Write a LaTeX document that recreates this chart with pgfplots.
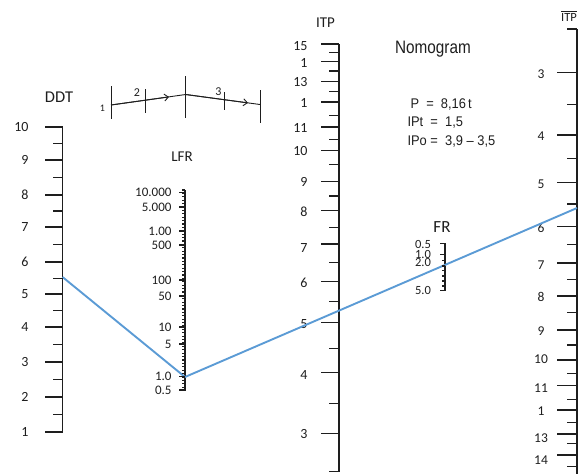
\documentclass[border=0pt]{standalone}
\usepackage{fontspec}
\setmainfont{Carlito}
\newfontfamily\arial{Liberation Sans}
\usepackage{pgfplots}
\pgfplotsset{compat=1.18}
\usetikzlibrary{arrows.meta}
\definecolor{nomoblue}{HTML}{5B9BD5}
\definecolor{ink}{HTML}{1E1E1E}
\newcommand\fs[1]{\fontsize{#1}{#1}\selectfont}
\pgfplotsset{
  tk/.style={only marks, mark=-, color=ink, mark options={line width=1.2pt}},
  ax/.style={ink, line width=1.3pt, mark=none},
}
\begin{document}
\begin{tikzpicture}
\begin{axis}[name=ax, x=1pt, y=1pt, xmin=0, xmax=584, ymin=0, ymax=474,
  y dir=reverse, hide axis, clip=false]

% ---------------- DDT scale ----------------
\addplot[ax] coordinates {(62.5,127)(62.5,432)};
\addplot[tk, mark size=8.75] coordinates {(53.75,127)(53.75,160)(53.75,195)(53.75,227)(53.75,262)(53.75,294)(53.75,327)(53.75,362)(53.75,397)(53.75,432)};
\addplot[tk, mark size=4.75] coordinates {(57.75,143.5)(57.75,177.5)(57.75,211)(57.75,244.5)(57.75,278.5)(57.75,310.5)(57.75,344.5)(57.75,379.5)(57.75,414.5)};
\foreach \v/\y in {10/127,9/160,8/195,7/227,6/262,5/294,4/327,3/362,2/397,1/432}
  {\edef\tmp{\noexpand\node[anchor=east, font=\noexpand\fs{14}, text=ink] at (32,\y) {\v};}\tmp}
\node[font=\fs{16.5}, text=ink] at (59,97) {DDT};

% ---------------- LFR scale ----------------
\addplot[ax] coordinates {(185,190)(185,390.5)};
\addplot[tk, mark size=1.6] coordinates {(183.4,190)(183.4,193.4)(183.4,196.8)(183.4,200.2)(183.4,203.6)(183.4,207)(183.4,210.4)(183.4,213.8)(183.4,217.2)(183.4,220.6)(183.4,224)(183.4,227.4)(183.4,230.8)(183.4,234.2)(183.4,237.6)(183.4,241)(183.4,244.4)(183.4,247.8)(183.4,251.2)(183.4,254.6)(183.4,258)(183.4,261.4)(183.4,264.8)(183.4,268.2)(183.4,271.6)(183.4,275)(183.4,278.4)(183.4,281.8)(183.4,285.2)(183.4,288.6)(183.4,292)(183.4,295.4)(183.4,298.8)(183.4,302.2)(183.4,305.6)(183.4,309)(183.4,312.4)(183.4,315.8)(183.4,319.2)(183.4,322.6)(183.4,326)(183.4,329.4)(183.4,332.8)(183.4,336.2)(183.4,339.6)(183.4,343)(183.4,346.4)(183.4,349.8)(183.4,353.2)(183.4,356.6)(183.4,360)(183.4,363.4)(183.4,366.8)(183.4,370.2)(183.4,373.6)(183.4,377)(183.4,380.4)(183.4,383.8)(183.4,387.2)(183.4,390)};
\addplot[tk, mark size=3] coordinates {(182,192.7)(182,207)(182,231)(182,245)(182,280)(182,296)(182,327)(182,344)(182,376.7)(182,390)};
\foreach \v/\y in {10.000/192.7,5.000/207,1.00/231,500/245,100/280,50/296,10/327,5/344,1.0/376.7,0.5/390}
  {\edef\tmp{\noexpand\node[anchor=east, font=\noexpand\fs{13}, text=ink] at (175,\y) {\v};}\tmp}
\node[font=\fs{15}, text=ink] at (182,157) {LFR};

% ---------------- ITP (middle) scale ----------------
\addplot[ax] coordinates {(339,44)(339,472)};
\addplot[tk, mark size=9.25] coordinates {(329.75,44)(329.75,61.7)(329.75,81.7)(329.75,102)(329.75,127)(329.75,150.7)(329.75,181.7)(329.75,210.7)(329.75,244)(329.75,281.3)(329.75,322.3)(329.75,372.7)(329.75,433.3)};
\addplot[tk, mark size=4.85] coordinates {(334.15,52.7)(334.15,71)(334.15,91.7)(334.15,115.7)(334.15,139.3)(334.15,164.7)(334.15,196)(334.15,227.5)(334.15,262.3)(334.15,301.7)(334.15,348.7)(334.15,403.3)(334.15,471.7)};
\foreach \v/\y in {15/46,1/62.5,13/81.7,1/102.5,11/127.5,10/151,9/182,8/212,7/248,6/283,5/324,4/375,3/434}
  {\edef\tmp{\noexpand\node[anchor=east, font=\noexpand\fs{14}, text=ink] at (311,\y) {\v};}\tmp}
\node[font=\fs{15}, text=ink] at (325.5,22.5) {ITP};

% ---------------- ITP-bar (right) scale ----------------
\addplot[ax] coordinates {(577,29)(577,474)};
\addplot[tk, mark size=9.85] coordinates {(567.15,72.3)(567.15,135)(567.15,182.3)(567.15,226.7)(567.15,263)(567.15,296)(567.15,330)(567.15,360)(567.15,385.7)(567.15,410)(567.15,434)(567.15,455)};
\addplot[tk, mark size=5.15] coordinates {(571.85,29)(571.85,104.3)(571.85,158.7)(571.85,204)(571.85,244.7)(571.85,279.3)(571.85,312.7)(571.85,345)(571.85,373.3)(571.85,399.3)(571.85,422.7)(571.85,443.3)(571.85,466.7)};
\foreach \v/\y in {3/74,4/136,5/184,6/228,7/265,8/297,9/331,10/359,11/388,1/411,13/438,14/460,1/479}
  {\edef\tmp{\noexpand\node[font=\noexpand\fs{13.5}, text=ink] at (541,\y) {\v};}\tmp}
\node[font=\fs{12.5}, text=ink] at (569,16) {$\overline{\mbox{ITP}}$};

% ---------------- FR scale ----------------
\addplot[ax] coordinates {(445,243.3)(445,290.7)};
\addplot[tk, mark size=2.3] coordinates {(442.7,243.3)(442.7,254.3)(442.7,290.7)};
\addplot[tk, mark size=1.7] coordinates {(443.3,260.7)(443.3,266)(443.3,270.7)(443.3,276)(443.3,281)(443.3,286)};
\foreach \v/\y in {0.5/244,1.0/254.3,2.0/262,5.0/290}
  {\edef\tmp{\noexpand\node[anchor=east, font=\noexpand\fs{12.5}, text=ink] at (434.5,\y) {\v};}\tmp}
\node[font=\fs{17}, text=ink] at (442,227) {FR};

% ---------------- key diagram ----------------
\addplot[ink, line width=0.9pt] coordinates {(111,105)(185.7,94.5)(260,104.5)};
\addplot[ink, line width=0.9pt, -{Straight Barb[length=4pt,width=7pt]}] coordinates {(111,105)(169,96.9)};
\addplot[ink, line width=0.9pt, -{Straight Barb[length=4pt,width=7pt]}] coordinates {(185.7,94.5)(248,102.9)};
\addplot[ink, line width=0.9pt] coordinates {(111,86)(111,119)};
\addplot[ink, line width=0.9pt] coordinates {(145.7,89)(145.7,113)};
\addplot[ink, line width=0.9pt] coordinates {(185.7,76)(185.7,118)};
\addplot[ink, line width=0.9pt] coordinates {(224,92)(224,110)};
\addplot[ink, line width=0.9pt] coordinates {(260,90)(260,123)};
\node[font=\fs{10}, text=ink] at (102.5,108) {1};
\node[font=\fs{12}, text=ink] at (137,93) {2};
\node[font=\fs{12}, text=ink] at (218.5,91.5) {3};

% ---------------- titles / parameters ----------------
\node[font=\arial\fs{18}, text=ink] at (433,49) {\scalebox{0.85}[1]{Nomogram}};
\node[anchor=west, font=\arial\fs{14}, text=ink] at (407,105) {\scalebox{0.92}[1]{P\ \ =\ \ 8,16\,t}};
\node[anchor=west, font=\arial\fs{14}, text=ink] at (404,123) {\scalebox{0.92}[1]{IPt\ \ =\ \ 1,5}};
\node[anchor=west, font=\arial\fs{14}, text=ink] at (404,141.7) {\scalebox{0.92}[1]{IPo =\ \ 3,9 – 3,5}};

% ---------------- isopleth ----------------
\addplot[nomoblue, line width=1.9pt, mark=none] coordinates {(62.5,277)(185,377)(577,208)};
\end{axis}
\pgfresetboundingbox
\path (ax.south west) rectangle (ax.north east);
\end{tikzpicture}
\end{document}
